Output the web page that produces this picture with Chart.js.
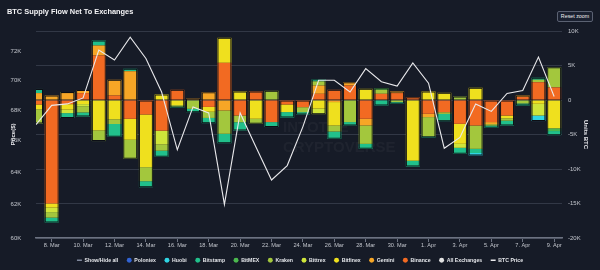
<!DOCTYPE html>
<html><head><meta charset="utf-8">
<script src="https://cdn.jsdelivr.net/npm/chart.js@4.4.1/dist/chart.umd.min.js"></script>
<style>
html,body{margin:0;padding:0;background:#161b27;}
#wrap{position:relative;width:600px;height:270px;overflow:hidden;}
#reset{position:absolute;left:557px;top:11px;width:36px;height:11px;box-sizing:border-box;border:1px solid #5b6272;border-radius:2px;background:#1b2130;color:#f0f0f0;font:5.3px 'Liberation Sans',Arial,sans-serif;text-align:center;line-height:9px;}
</style></head><body>
<div id="wrap"><canvas id="c" width="600" height="270"></canvas><div id="reset">Reset zoom</div></div>
<script>
const categories = ['7. Mar','8. Mar','9. Mar','10. Mar','11. Mar','12. Mar','13. Mar','14. Mar','15. Mar','16. Mar','17. Mar','18. Mar','19. Mar','20. Mar','21. Mar','22. Mar','23. Mar','24. Mar','25. Mar','26. Mar','27. Mar','28. Mar','29. Mar','30. Mar','31. Mar','1. Apr','2. Apr','3. Apr','4. Apr','5. Apr','6. Apr','7. Apr','8. Apr','9. Apr'];
const tickLabels = ['8. Mar','10. Mar','12. Mar','14. Mar','16. Mar','18. Mar','20. Mar','22. Mar','24. Mar','26. Mar','28. Mar','30. Mar','1. Apr','3. Apr','5. Apr','7. Apr','9. Apr'];
const priceTicks = [60000,62000,64000,66000,68000,70000,72000];

const binance  = [-650,-15000,-600,1000,6450,650,-2720,-2100,-4450,1480,0,-1000,5390,-2250,1230,-3200,-650,-1040,900,1480,2100,-2720,900,1000,400,-2000,-1770,-3450,-3700,-3200,-2250,450,2580,1830];
const gemini   = [1000,650,1000,450,1450,2280,4170,0,0,0,200,1130,-1520,0,0,0,0,0,1200,-300,480,-970,0,250,0,-480,0,0,0,-300,0,200,0,0];
const bitfinex = [-700,-600,-800,-600,-4400,-2800,-3040,-7640,800,-750,0,-700,3620,1230,-2720,0,-1100,0,-1250,-3400,0,1620,0,0,-8800,1230,1040,-2900,1770,0,-400,0,-550,-4100];
const bittrex  = [0,-650,-500,-300,0,0,0,0,-2000,0,0,0,0,0,0,0,0,0,-800,0,0,0,0,0,0,0,0,-580,0,0,0,0,-1700,0];
const kraken   = [-2050,-800,150,-900,-1550,-680,-2750,-2030,-900,-200,-1280,-900,-3380,-970,-720,1330,0,-720,600,-870,-3200,-2670,580,-300,0,-2800,-250,500,-3380,-200,-350,-500,350,2900];
const bitmex   = [0,0,0,0,0,0,0,0,0,0,0,0,0,0,0,0,0,0,0,0,0,0,240,0,0,0,0,0,0,0,0,0,0,-400];
const bitstamp = [600,-700,-700,-600,720,-1840,350,-870,-870,-180,-480,-760,-1360,-1200,0,-720,-800,-330,300,-1060,-480,-720,-800,-250,-850,-150,-1050,-870,-600,-330,-700,-300,290,-600];
const huobi    = [0,0,0,0,0,0,0,0,0,0,0,0,0,0,0,0,0,0,0,0,0,0,0,0,0,0,0,0,-350,0,0,0,-800,0];
const poloniex = [0,0,0,0,0,0,0,0,0,0,0,0,0,0,0,0,0,0,0,0,0,0,0,0,0,0,0,0,0,0,0,0,0,0];
const btcPrice = [67030,68300,68400,68800,72100,71400,73000,71500,69200,65400,68200,67800,62000,67800,65600,63500,64400,66900,70000,70000,69200,70800,69900,69600,71200,69800,65500,66200,68400,67900,69100,69300,71600,68900];

const exchanges = [
  {name:'Binance', data:binance, color:'#f26a22'},
  {name:'Gemini', data:gemini, color:'#f7a626'},
  {name:'Bitfinex', data:bitfinex, color:'#efe01e'},
  {name:'Bittrex', data:bittrex, color:'#cfe53a'},
  {name:'Kraken', data:kraken, color:'#a3c73d'},
  {name:'BitMEX', data:bitmex, color:'#4bb84e'},
  {name:'Bitstamp', data:bitstamp, color:'#21c08b'},
  {name:'Huobi', data:huobi, color:'#2fd5e3'},
  {name:'Poloniex', data:poloniex, color:'#3163d4'}
];
const legendOrder = ['Poloniex','Huobi','Bitstamp','BitMEX','Kraken','Bittrex','Bitfinex','Gemini','Binance'];

const FONT = "'Liberation Sans', Arial, sans-serif";
Chart.defaults.font.family = FONT;

const allRange = categories.map((c,i) => {
  let pos = 0, neg = 0;
  exchanges.forEach(e => { const v = e.data[i]; if (v > 0) pos += v; else neg += v; });
  return {x:i, y:[neg, pos]};
});

const datasets = [
  {type:'line', label:'BTC Price', yAxisID:'y', order:0, clip:0,
   data: btcPrice.map((v,i)=>({x:i,y:v})), borderColor:'#e9e9ec', borderWidth:1.1, pointRadius:0, tension:0, fill:false},
  {type:'bar', label:'All Exchanges', yAxisID:'y1', order:1, clip:0, grouped:false, stack:'all',
   data: allRange, backgroundColor:'rgba(0,0,0,0)', borderColor:'#0c0f15', borderWidth:1, borderSkipped:false,
   barPercentage:0.89, categoryPercentage:1}
];
exchanges.forEach(e => datasets.push({
  type:'bar', label:e.name, yAxisID:'y1', order:2, clip:0, stack:'ex',
  data: e.data.map((v,i)=>({x:i,y:v})), backgroundColor:e.color, borderWidth:0,
  barPercentage:0.89, categoryPercentage:1
}));

const watermark = {
  id:'wm',
  beforeDatasetsDraw(chart){
    const ctx = chart.ctx; ctx.save();
    ctx.fillStyle = 'rgba(255,255,255,0.04)';
    ctx.font = "bold 15px " + FONT; ctx.textBaseline = 'middle'; ctx.textAlign = 'left';
    ctx.fillText('INTOTHE', 283, 128);
    ctx.fillText('CRYPTOVERSE', 283, 148);
    ctx.restore();
  }
};

const textColor = '#e4e6ea';
new Chart(document.getElementById('c'), {
  type:'bar',
  data:{datasets},
  plugins:[watermark],
  options:{
    responsive:false, animation:false,
    layout:{padding:{left:7,right:7,top:0,bottom:-2.9}},
    plugins:{
      tooltip:{enabled:false},
      title:{display:true, text:'BTC Supply Flow Net To Exchanges', align:'start', color:'#f4f4f6',
        font:{size:7.4, weight:'bold', family:FONT}, padding:{top:8, bottom:31-8-7.4*1.2}},
      legend:{display:true, position:'bottom', onClick:()=>{},
        labels:{usePointStyle:true, boxWidth:5, boxHeight:3.5, padding:8.5, color:textColor,
          font:{size:5.2, weight:'bold', family:FONT},
          generateLabels(chart){
            const items = [{text:'Show/Hide all', pointStyle:'line', strokeStyle:'#7f889c', fillStyle:'#7f889c', lineWidth:1.5, hidden:false, fontColor:textColor}];
            legendOrder.forEach(n => { const e = exchanges.find(x=>x.name===n);
              items.push({text:n, pointStyle:'circle', fillStyle:e.color, strokeStyle:e.color, lineWidth:0, hidden:false, fontColor:textColor}); });
            items.push({text:'All Exchanges', pointStyle:'circle', fillStyle:'#e2e2e2', strokeStyle:'#e2e2e2', lineWidth:0, hidden:false, fontColor:textColor});
            items.push({text:'BTC Price', pointStyle:'line', strokeStyle:'#e9e9ec', fillStyle:'#e9e9ec', lineWidth:1.5, hidden:false, fontColor:textColor});
            return items;
          }
        }
      }
    },
    scales:{
      x:{type:'linear', min:0, max:33.5, offset:false,
        grid:{display:true, drawOnChartArea:false, drawTicks:true, tickLength:4, color:'#6c7281', lineWidth:1, offset:false},
        border:{display:true, color:'#6c7281', width:1.5},
        ticks:{color:'#c3c6cd', font:{size:5.6}, padding:0, maxRotation:0, autoSkip:false,
          callback:(v)=>categories[v]},
        afterBuildTicks:(s)=>{ s.ticks = tickLabels.map(l=>({value:categories.indexOf(l)})); },
        afterFit:(s)=>{ s.height = 11.2; }
      },
      y:{type:'logarithmic', position:'left', min:60000, max:73450,
        grid:{display:false}, border:{display:false},
        ticks:{color:'#c3c6cd', font:{size:6}, padding:6.7, callback:(v)=>(v/1000)+'K'},
        afterBuildTicks:(s)=>{ s.ticks = priceTicks.map(v=>({value:v})); },
        title:{display:true, text:'Price($)', color:'#e8e8ec', font:{size:6, weight:'bold'}, padding:{top:2.4,bottom:0}},
        afterFit:(s)=>{ s.width = 29; }
      },
      y1:{type:'linear', position:'right', min:-20000, max:10000,
        grid:{color:'#323846', lineWidth:1, drawTicks:false}, border:{display:false},
        ticks:{stepSize:5000, color:'#c3c6cd', font:{size:6}, padding:6, callback:(v)=> v===0 ? '0' : (v/1000)+'K'},
        title:{display:true, text:'Units BTC', color:'#e8e8ec', font:{size:6, weight:'bold'}, padding:{top:3.9,bottom:0}},
        afterFit:(s)=>{ s.width = 31; }
      }
    }
  }
});
</script>
</body></html>
